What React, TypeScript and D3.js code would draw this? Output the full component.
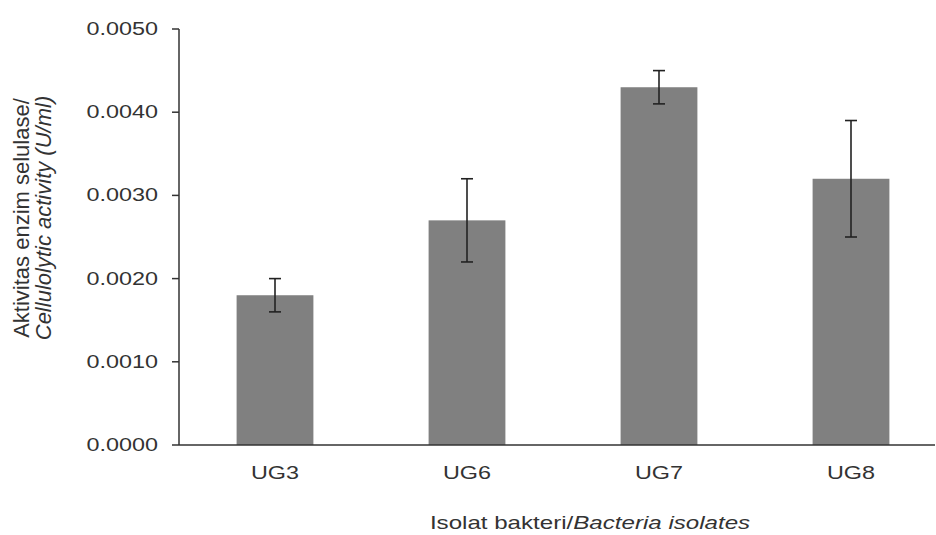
import React, { useRef, useEffect } from 'react';
import * as d3 from 'd3';

const isolates = ['UG3', 'UG6', 'UG7', 'UG8'];
const activity = [0.0018, 0.0027, 0.0043, 0.0032];
const errLow = [0.0016, 0.0022, 0.0041, 0.0025];
const errHigh = [0.0020, 0.0032, 0.0045, 0.0039];
const yTicks = [0, 0.001, 0.002, 0.003, 0.004, 0.005];

const W = 936;
const H = 535;
const SX = 1.3; // the reference text is stretched horizontally

export default function App() {
  const svgRef = useRef<SVGSVGElement>(null);

  useEffect(() => {
    const svg = d3.select(svgRef.current);
    svg.selectAll('*').remove();

    const x = d3.scaleBand().domain(isolates).range([179, 947]).paddingInner(0.6).paddingOuter(0.3);
    const y = d3.scaleLinear().domain([0, 0.005]).range([445, 29]);
    const font = 'Liberation Sans, Arial, sans-serif';
    const textCol = '#333';

    // bars
    svg.selectAll('rect.bar')
      .data(isolates)
      .join('rect')
      .attr('class', 'bar')
      .attr('x', d => x(d)!)
      .attr('width', x.bandwidth())
      .attr('y', (d, i) => y(activity[i]))
      .attr('height', (d, i) => y(0) - y(activity[i]))
      .attr('fill', '#808080');

    // error bars
    const eb = svg.selectAll('g.err').data(isolates).join('g').attr('class', 'err')
      .attr('stroke', '#222').attr('stroke-width', 1.6);
    eb.append('line')
      .attr('x1', d => x(d)! + x.bandwidth() / 2).attr('x2', d => x(d)! + x.bandwidth() / 2)
      .attr('y1', (d, i) => y(errLow[i])).attr('y2', (d, i) => y(errHigh[i]));
    [errLow, errHigh].forEach(arr => {
      eb.append('line')
        .attr('x1', d => x(d)! + x.bandwidth() / 2 - 6).attr('x2', d => x(d)! + x.bandwidth() / 2 + 6)
        .attr('y1', (d, i) => y(arr[i])).attr('y2', (d, i) => y(arr[i]));
    });

    // axes
    svg.append('line').attr('x1', 179).attr('x2', 179).attr('y1', y(0.005)).attr('y2', y(0))
      .attr('stroke', '#333').attr('stroke-width', 1.5);
    svg.append('line').attr('x1', 179).attr('x2', 935).attr('y1', y(0)).attr('y2', y(0))
      .attr('stroke', '#333').attr('stroke-width', 1.5);

    svg.selectAll('line.ytick').data(yTicks).join('line').attr('class', 'ytick')
      .attr('x1', 172).attr('x2', 179).attr('y1', d => y(d)).attr('y2', d => y(d))
      .attr('stroke', '#333').attr('stroke-width', 1.5);

    svg.selectAll('text.ylab').data(yTicks).join('text').attr('class', 'ylab')
      .attr('transform', d => `translate(158,${y(d) + 6}) scale(${SX},1)`)
      .attr('text-anchor', 'end')
      .attr('font-family', font).attr('font-size', 18).attr('fill', textCol)
      .text(d => d.toFixed(4));

    svg.selectAll('text.xlab').data(isolates).join('text').attr('class', 'xlab')
      .attr('transform', d => `translate(${x(d)! + x.bandwidth() / 2},${479}) scale(${SX},1)`)
      .attr('text-anchor', 'middle')
      .attr('font-family', font).attr('font-size', 18).attr('fill', textCol)
      .text(d => d);

    // x title
    const xt = svg.append('text')
      .attr('transform', `translate(590,529) scale(1.34,1)`)
      .attr('text-anchor', 'middle')
      .attr('font-family', font).attr('font-size', 18).attr('fill', textCol);
    xt.append('tspan').text('Isolat bakteri/');
    xt.append('tspan').attr('font-style', 'italic').text('Bacteria isolates');

    // y title
    const yt = svg.append('text')
      .attr('transform', 'translate(0,218) rotate(-90)')
      .attr('text-anchor', 'middle')
      .attr('font-family', font).attr('font-size', 22).attr('fill', textCol);
    yt.append('tspan').attr('x', 0).attr('y', 29).text('Aktivitas enzim selulase/');
    const l2 = yt.append('tspan').attr('x', 0).attr('y', 51);
    l2.append('tspan').attr('font-style', 'italic').text('Cellulolytic activity');
    l2.append('tspan').text(' ');
    l2.append('tspan').attr('font-style', 'italic').text('(U/ml)');
  }, []);

  return (
    <div style={{ position: 'absolute', left: 0, top: 0 }}>
      <svg ref={svgRef} width={W} height={H} style={{ display: 'block', background: '#fff' }} />
    </div>
  );
}
